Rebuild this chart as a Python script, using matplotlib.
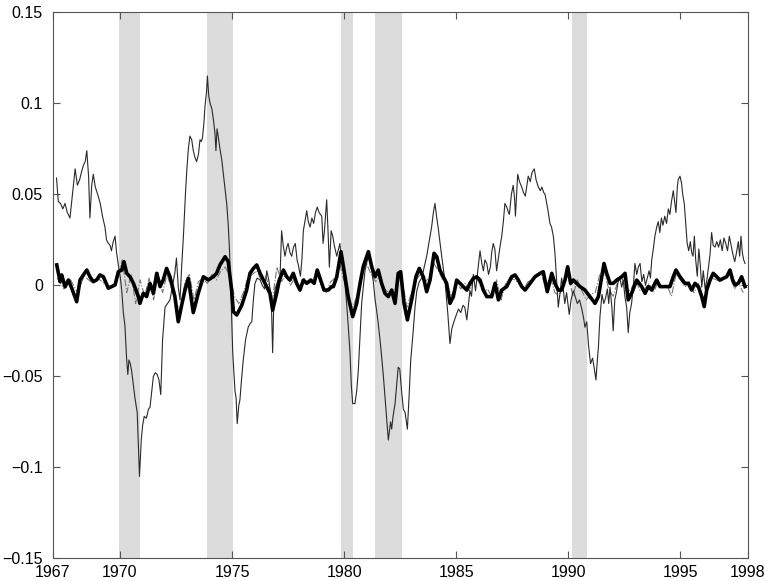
import matplotlib
matplotlib.use("Agg")
import matplotlib.pyplot as plt

# ---------------- data ----------------
recessions = [(1969.97, 1970.89), (1973.88, 1975.06), (1979.87, 1980.39),
              (1981.38, 1982.57), (1990.16, 1990.85)]

thin_years = [1967.17, 1967.25, 1967.35, 1967.45, 1967.55, 1967.65, 1967.77, 1967.88, 1968.00, 1968.10,
              1968.20, 1968.30, 1968.37, 1968.45, 1968.52, 1968.60, 1968.66, 1968.74, 1968.81, 1968.90,
              1969.03, 1969.12, 1969.22, 1969.33, 1969.40, 1969.48, 1969.56, 1969.62, 1969.70, 1969.78,
              1969.85, 1969.93, 1970.02, 1970.08, 1970.15, 1970.22, 1970.30, 1970.35, 1970.40, 1970.46,
              1970.52, 1970.60, 1970.67, 1970.77, 1970.87, 1970.95, 1971.01, 1971.08, 1971.18, 1971.27,
              1971.34, 1971.42, 1971.49, 1971.58, 1971.66, 1971.74, 1971.82, 1971.90, 1972.01, 1972.12,
              1972.23, 1972.35, 1972.45, 1972.52, 1972.60, 1972.68, 1972.75, 1972.83, 1972.92, 1972.98,
              1973.05, 1973.12, 1973.20, 1973.27, 1973.35, 1973.42, 1973.50, 1973.57, 1973.63, 1973.68,
              1973.75, 1973.79, 1973.86, 1973.90, 1973.96, 1974.02, 1974.10, 1974.18, 1974.24, 1974.28,
              1974.33, 1974.38, 1974.46, 1974.54, 1974.65, 1974.76, 1974.82, 1974.88, 1974.94, 1975.03,
              1975.08, 1975.13, 1975.18, 1975.23, 1975.30, 1975.35, 1975.42, 1975.50, 1975.60, 1975.72,
              1975.80, 1975.88, 1975.95, 1976.02, 1976.12, 1976.25, 1976.35, 1976.45, 1976.55, 1976.65,
              1976.75, 1976.81, 1976.86, 1976.92, 1977.03, 1977.14, 1977.21, 1977.28, 1977.36, 1977.44,
              1977.50, 1977.58, 1977.66, 1977.74, 1977.82, 1977.90, 1977.96, 1978.05, 1978.12, 1978.18,
              1978.26, 1978.33, 1978.40, 1978.48, 1978.56, 1978.64, 1978.72, 1978.80, 1978.88, 1979.00,
              1979.06, 1979.12, 1979.22, 1979.28, 1979.34, 1979.42, 1979.49, 1979.56, 1979.67, 1979.75,
              1979.81, 1979.88, 1979.96, 1980.04, 1980.11, 1980.18, 1980.26, 1980.32, 1980.38, 1980.48,
              1980.56, 1980.63, 1980.70, 1980.78, 1980.86, 1980.93, 1981.00, 1981.08, 1981.16, 1981.23,
              1981.30, 1981.38, 1981.45, 1981.52, 1981.60, 1981.67, 1981.75, 1981.82, 1981.90, 1981.97,
              1982.02, 1982.07, 1982.12, 1982.18, 1982.27, 1982.34, 1982.41, 1982.48, 1982.56, 1982.64,
              1982.72, 1982.82, 1982.90, 1982.97, 1983.08, 1983.16, 1983.24, 1983.35, 1983.46, 1983.57,
              1983.68, 1983.79, 1983.90, 1983.98, 1984.05, 1984.12, 1984.20, 1984.35, 1984.50, 1984.62,
              1984.72, 1984.80, 1984.87, 1984.95, 1985.10, 1985.20, 1985.30, 1985.38, 1985.47, 1985.55,
              1985.61, 1985.68, 1985.76, 1985.86, 1985.96, 1986.06, 1986.14, 1986.21, 1986.28, 1986.36,
              1986.44, 1986.52, 1986.58, 1986.65, 1986.72, 1986.80, 1986.88, 1986.96, 1987.03, 1987.10,
              1987.17, 1987.25, 1987.33, 1987.37, 1987.46, 1987.54, 1987.60, 1987.64, 1987.70, 1987.74,
              1987.82, 1987.92, 1988.00, 1988.08, 1988.15, 1988.21, 1988.30, 1988.38, 1988.48, 1988.56,
              1988.66, 1988.75, 1988.82, 1988.90, 1988.96, 1989.08, 1989.18, 1989.25, 1989.33, 1989.40,
              1989.45, 1989.55, 1989.62, 1989.70, 1989.78, 1989.84, 1989.92, 1990.04, 1990.12, 1990.22,
              1990.30, 1990.40, 1990.50, 1990.60, 1990.68, 1990.74, 1990.82, 1990.90, 1990.99, 1991.08,
              1991.16, 1991.23, 1991.30, 1991.34, 1991.41, 1991.50, 1991.58, 1991.66, 1991.74, 1991.80,
              1991.86, 1991.94, 1992.00, 1992.07, 1992.14, 1992.22, 1992.30, 1992.38, 1992.45, 1992.52,
              1992.60, 1992.67, 1992.74, 1992.82, 1992.90, 1992.97, 1993.05, 1993.12, 1993.20, 1993.28,
              1993.36, 1993.44, 1993.52, 1993.60, 1993.66, 1993.72, 1993.79, 1993.86, 1993.94, 1994.01,
              1994.08, 1994.15, 1994.22, 1994.30, 1994.38, 1994.46, 1994.53, 1994.60, 1994.68, 1994.75,
              1994.80, 1994.86, 1994.90, 1994.98, 1995.05, 1995.10, 1995.17, 1995.23, 1995.30, 1995.37,
              1995.44, 1995.50, 1995.56, 1995.62, 1995.68, 1995.75, 1995.82, 1995.88, 1995.95, 1996.02,
              1996.10, 1996.18, 1996.25, 1996.32, 1996.39, 1996.46, 1996.54, 1996.62, 1996.70, 1996.78,
              1996.86, 1996.94, 1997.02, 1997.10, 1997.18, 1997.26, 1997.34, 1997.42, 1997.50, 1997.58,
              1997.64, 1997.70, 1997.76, 1997.82, 1997.88]
thin_vals = [0.059, 0.046, 0.045, 0.042, 0.045, 0.040, 0.037, 0.050, 0.064, 0.055,
             0.058, 0.063, 0.066, 0.068, 0.074, 0.060, 0.037, 0.055, 0.061, 0.054,
             0.049, 0.045, 0.038, 0.032, 0.025, 0.023, 0.022, 0.019, 0.024, 0.027,
             0.018, 0.011, 0.004, -0.003, -0.015, -0.022, -0.041, -0.049, -0.041, -0.043,
             -0.047, -0.055, -0.062, -0.070, -0.105, -0.085, -0.077, -0.072, -0.073, -0.068,
             -0.067, -0.058, -0.050, -0.048, -0.049, -0.052, -0.060, -0.030, -0.012, -0.010,
             -0.008, 0.000, 0.007, 0.015, -0.001, -0.008, 0.010, 0.027, 0.050, 0.063,
             0.075, 0.082, 0.080, 0.074, 0.070, 0.068, 0.072, 0.080, 0.079, 0.081,
             0.090, 0.098, 0.106, 0.115, 0.104, 0.100, 0.097, 0.090, 0.083, 0.074,
             0.086, 0.082, 0.075, 0.069, 0.057, 0.045, 0.035, 0.021, -0.001, -0.037,
             -0.048, -0.058, -0.062, -0.076, -0.066, -0.063, -0.052, -0.041, -0.030, -0.023,
             -0.021, -0.020, -0.008, 0.001, 0.004, 0.003, 0.000, -0.002, 0.008, 0.002,
             -0.008, -0.037, -0.010, -0.002, 0.002, 0.005, 0.030, 0.022, 0.016, 0.021,
             0.023, 0.018, 0.016, 0.021, 0.023, 0.014, 0.011, 0.005, 0.015, 0.030,
             0.036, 0.041, 0.035, 0.032, 0.037, 0.034, 0.040, 0.043, 0.040, 0.038,
             0.023, 0.030, 0.047, 0.030, 0.010, 0.030, 0.027, 0.022, 0.016, 0.020,
             0.023, 0.014, 0.008, 0.000, -0.010, -0.022, -0.037, -0.055, -0.065, -0.065,
             -0.058, -0.047, -0.030, -0.010, 0.000, 0.008, 0.012, 0.016, 0.012, 0.008,
             0.002, -0.008, -0.014, -0.021, -0.030, -0.039, -0.050, -0.061, -0.073, -0.085,
             -0.080, -0.075, -0.079, -0.072, -0.065, -0.055, -0.045, -0.046, -0.058, -0.068,
             -0.070, -0.079, -0.060, -0.041, -0.025, -0.012, -0.003, 0.002, 0.004, 0.010,
             0.016, 0.024, 0.032, 0.040, 0.045, 0.038, 0.031, 0.016, 0.002, -0.015,
             -0.032, -0.024, -0.021, -0.018, -0.013, -0.015, -0.011, -0.012, -0.019, -0.010,
             -0.003, -0.006, 0.006, -0.003, 0.008, 0.019, 0.012, 0.008, 0.014, 0.012,
             0.006, 0.010, 0.018, 0.023, 0.020, 0.008, 0.015, 0.022, 0.027, 0.035,
             0.045, 0.043, 0.040, 0.039, 0.050, 0.055, 0.048, 0.038, 0.052, 0.061,
             0.057, 0.054, 0.051, 0.049, 0.055, 0.060, 0.057, 0.062, 0.064, 0.058,
             0.054, 0.052, 0.054, 0.051, 0.050, 0.042, 0.034, 0.032, 0.027, 0.018,
             0.008, -0.012, -0.005, 0.004, -0.003, -0.010, -0.004, -0.016, -0.008, -0.003,
             -0.006, -0.010, -0.008, -0.013, -0.018, -0.023, -0.020, -0.033, -0.043, -0.040,
             -0.046, -0.052, -0.040, -0.034, -0.017, -0.005, -0.010, -0.007, -0.002, -0.010,
             -0.001, -0.012, -0.025, -0.008, -0.004, 0.002, 0.004, -0.001, 0.003, -0.006,
             -0.012, -0.026, -0.015, -0.010, 0.000, 0.012, 0.006, 0.010, 0.012, 0.002,
             0.006, 0.000, 0.004, 0.008, 0.004, 0.014, 0.020, 0.027, 0.032, 0.035,
             0.029, 0.037, 0.033, 0.038, 0.034, 0.042, 0.039, 0.046, 0.052, 0.045,
             0.040, 0.054, 0.058, 0.060, 0.056, 0.050, 0.045, 0.035, 0.023, 0.019,
             0.024, 0.018, 0.016, 0.027, 0.014, 0.005, 0.020, 0.012, -0.001, 0.008,
             -0.002, 0.003, 0.010, 0.017, 0.029, 0.022, 0.021, 0.024, 0.021, 0.025,
             0.019, 0.026, 0.023, 0.019, 0.027, 0.022, 0.017, 0.013, 0.018, 0.024,
             0.016, 0.027, 0.018, 0.014, 0.012]

thick_years = [1967.18, 1967.33, 1967.40, 1967.55, 1967.70, 1967.85, 1968.07, 1968.22, 1968.37, 1968.52,
               1968.66, 1968.81, 1968.96, 1969.11, 1969.26, 1969.48, 1969.63, 1969.78, 1969.93, 1970.08,
               1970.18, 1970.30, 1970.45, 1970.60, 1970.82, 1970.89, 1971.04, 1971.19, 1971.34, 1971.49,
               1971.64, 1971.79, 1971.93, 1972.08, 1972.23, 1972.45, 1972.60, 1972.75, 1972.90, 1973.05,
               1973.27, 1973.49, 1973.72, 1973.94, 1974.16, 1974.31, 1974.46, 1974.69, 1974.83, 1974.98,
               1975.06, 1975.21, 1975.43, 1975.65, 1975.80, 1975.95, 1976.10, 1976.25, 1976.47, 1976.69,
               1976.81, 1976.99, 1977.11, 1977.29, 1977.44, 1977.58, 1977.73, 1977.88, 1978.03, 1978.18,
               1978.33, 1978.51, 1978.66, 1978.80, 1978.95, 1979.10, 1979.29, 1979.44, 1979.52, 1979.67,
               1979.86, 1980.04, 1980.18, 1980.38, 1980.56, 1980.71, 1980.85, 1981.08, 1981.23, 1981.38,
               1981.52, 1981.67, 1981.82, 1981.97, 1982.12, 1982.27, 1982.41, 1982.52, 1982.67, 1982.82,
               1983.01, 1983.20, 1983.35, 1983.53, 1983.68, 1983.83, 1984.01, 1984.13, 1984.27, 1984.42,
               1984.57, 1984.72, 1984.87, 1985.02, 1985.17, 1985.31, 1985.47, 1985.61, 1985.76, 1985.91,
               1986.06, 1986.21, 1986.36, 1986.58, 1986.73, 1986.88, 1987.03, 1987.25, 1987.47, 1987.62,
               1987.77, 1987.92, 1988.07, 1988.29, 1988.51, 1988.74, 1988.88, 1989.06, 1989.26, 1989.40,
               1989.55, 1989.70, 1989.85, 1989.97, 1990.10, 1990.22, 1990.37, 1990.52, 1990.74, 1990.96,
               1991.19, 1991.34, 1991.49, 1991.59, 1991.71, 1991.86, 1992.00, 1992.16, 1992.38, 1992.53,
               1992.67, 1992.82, 1993.05, 1993.27, 1993.42, 1993.57, 1993.72, 1993.86, 1993.94, 1994.09,
               1994.31, 1994.53, 1994.68, 1994.80, 1994.98, 1995.20, 1995.35, 1995.50, 1995.65, 1995.80,
               1995.95, 1996.06, 1996.17, 1996.32, 1996.46, 1996.62, 1996.76, 1996.91, 1997.06, 1997.21,
               1997.33, 1997.43, 1997.58, 1997.73, 1997.88]
thick_vals = [0.0112, 0.0020, 0.0057, -0.0008, 0.0029, -0.0016, -0.0090, 0.0030, 0.0057, 0.0084,
              0.0047, 0.0020, 0.0030, 0.0057, 0.0047, -0.0016, -0.0007, 0.0002, 0.0075, 0.0084,
              0.0130, 0.0066, 0.0047, 0.0011, -0.0062, -0.0099, -0.0044, -0.0062, 0.0011, -0.0044,
              0.0066, -0.0007, 0.0030, 0.0093, 0.0047, -0.0062, -0.0200, -0.0110, -0.0026, 0.0038,
              -0.0150, -0.0044, 0.0047, 0.0030, 0.0047, 0.0066, 0.0112, 0.0157, 0.0130, -0.0026,
              -0.0145, -0.0163, -0.0110, -0.0026, 0.0066, 0.0093, 0.0112, 0.0066, 0.0011, -0.0044,
              -0.0136, -0.0044, 0.0030, 0.0084, 0.0047, 0.0029, 0.0066, 0.0011, -0.0026, 0.0029,
              0.0011, 0.0029, 0.0011, 0.0084, 0.0029, -0.0026, -0.0026, -0.0007, -0.0007, 0.0047,
              0.0185, 0.0047, -0.0062, -0.0172, -0.0099, 0.0011, 0.0102, 0.0185, 0.0102, 0.0047,
              0.0084, 0.0011, -0.0044, -0.0062, -0.0026, -0.0099, 0.0066, 0.0075, -0.0099, -0.0190,
              -0.0080, 0.0047, 0.0093, 0.0047, -0.0035, 0.0029, 0.0176, 0.0157, 0.0084, 0.0047,
              0.0011, -0.0099, -0.0062, 0.0029, 0.0011, -0.0007, -0.0026, 0.0011, 0.0038, 0.0047,
              0.0029, -0.0026, -0.0062, -0.0062, 0.0011, -0.0080, -0.0026, -0.0007, 0.0047, 0.0057,
              0.0029, -0.0007, -0.0026, 0.0011, 0.0047, 0.0066, 0.0075, -0.0035, 0.0066, 0.0011,
              -0.0026, -0.0026, 0.0029, 0.0102, 0.0011, 0.0029, 0.0011, -0.0007, -0.0026, -0.0062,
              -0.0099, -0.0062, 0.0047, 0.0120, 0.0066, 0.0011, 0.0011, 0.0029, 0.0047, 0.0066,
              -0.0080, -0.0044, 0.0029, -0.0007, -0.0044, -0.0007, -0.0026, 0.0011, 0.0029, -0.0007,
              -0.0007, -0.0007, 0.0047, 0.0084, 0.0047, 0.0011, 0.0011, -0.0026, 0.0011, -0.0007,
              -0.0062, -0.0117, -0.0026, 0.0029, 0.0066, 0.0047, 0.0029, 0.0038, 0.0047, 0.0084,
              0.0029, 0.0002, 0.0011, 0.0047, -0.0007]

dash_years = [1967.2, 1967.5, 1967.8, 1968.1, 1968.4, 1968.7, 1969.0, 1969.3, 1969.6, 1969.9,
              1970.1, 1970.3, 1970.5, 1970.7, 1970.9, 1971.1, 1971.3, 1971.5, 1971.7, 1971.9,
              1972.1, 1972.3, 1972.5, 1972.7, 1972.9, 1973.1, 1973.3, 1973.5, 1973.7, 1973.9,
              1974.1, 1974.3, 1974.5, 1974.7, 1974.9, 1975.1, 1975.3, 1975.5, 1975.7, 1975.9,
              1976.1, 1976.3, 1976.5, 1976.7, 1976.8, 1977.0, 1977.2, 1977.4, 1977.6, 1977.8,
              1978.0, 1978.2, 1978.4, 1978.6, 1978.8, 1979.0, 1979.2, 1979.4, 1979.6, 1979.8,
              1980.0, 1980.2, 1980.4, 1980.6, 1980.8, 1981.0, 1981.2, 1981.4, 1981.6, 1981.8,
              1982.0, 1982.2, 1982.4, 1982.6, 1982.8, 1983.0, 1983.2, 1983.4, 1983.6, 1983.8,
              1984.0, 1984.2, 1984.4, 1984.6, 1984.8, 1985.0, 1985.2, 1985.4, 1985.6, 1985.8,
              1986.0, 1986.2, 1986.4, 1986.6, 1986.8, 1987.0, 1987.2, 1987.4, 1987.6, 1987.8,
              1988.0, 1988.2, 1988.4, 1988.6, 1988.8, 1989.0, 1989.2, 1989.4, 1989.6, 1989.8,
              1990.0, 1990.2, 1990.4, 1990.6, 1990.8, 1991.0, 1991.2, 1991.4, 1991.6, 1991.8,
              1992.0, 1992.2, 1992.4, 1992.6, 1992.8, 1993.0, 1993.2, 1993.4, 1993.6, 1993.8,
              1994.0, 1994.2, 1994.4, 1994.6, 1994.8, 1995.0, 1995.2, 1995.4, 1995.6, 1995.8,
              1996.0, 1996.2, 1996.4, 1996.6, 1996.8, 1997.0, 1997.2, 1997.4, 1997.6, 1997.8]
dash_vals = [0.004, -0.002, 0.003, -0.004, 0.005, 0.002, 0.004, 0.001, -0.002, 0.003,
             0.014, -0.004, 0.006, -0.010, 0.003, -0.006, 0.004, -0.008, 0.007, -0.004,
             0.006, -0.002, -0.010, -0.014, 0.002, 0.006, -0.008, 0.002, 0.004, 0.001,
             0.006, 0.003, 0.008, 0.010, 0.005, -0.006, -0.010, -0.004, 0.004, 0.006,
             0.008, 0.003, 0.005, -0.002, -0.008, 0.010, 0.002, 0.006, 0.000, 0.004,
             -0.002, 0.004, 0.001, 0.003, 0.006, 0.000, -0.004, 0.002, 0.004, 0.012,
             0.002, -0.008, -0.012, -0.004, 0.006, 0.012, 0.006, 0.002, 0.005, -0.002,
             -0.004, -0.006, 0.004, 0.002, -0.012, -0.004, 0.003, 0.006, 0.002, 0.004,
             0.012, 0.008, 0.003, 0.000, -0.006, 0.002, -0.002, 0.001, -0.003, 0.005,
             0.002, -0.004, -0.002, -0.007, 0.003, -0.008, 0.001, 0.004, 0.003, 0.001,
             -0.002, 0.002, 0.003, 0.005, 0.006, -0.002, 0.004, -0.004, -0.006, 0.002,
             0.006, -0.006, 0.003, -0.003, -0.008, -0.005, -0.004, 0.006, 0.008, -0.002,
             -0.006, 0.002, 0.004, -0.004, -0.002, 0.003, -0.003, -0.002, 0.001, -0.004,
             0.002, -0.001, 0.000, -0.006, 0.006, 0.003, -0.001, 0.002, -0.004, 0.001,
             -0.008, -0.003, 0.004, 0.003, 0.002, 0.004, 0.006, -0.002, 0.001, -0.004]

x_ticks = [1967, 1970, 1975, 1980, 1985, 1990, 1995, 1998]
y_ticks = [-0.15, -0.1, -0.05, 0, 0.05, 0.1, 0.15]
y_labels = ["\u22120.15", "\u22120.1", "\u22120.05", "0", "0.05", "0.1", "0.15"]

# ---------------- plot ----------------
plt.rcParams['font.family'] = ['Liberation Sans', 'DejaVu Sans']
fig = plt.figure(figsize=(7.65, 5.81), dpi=100)
ax = fig.add_axes([0.0689, 0.039, 0.9085, 0.9398])

for a, b in recessions:
    ax.axvspan(a, b, color='#dcdcdc', lw=0, zorder=0)

ax.plot(dash_years, dash_vals, color='#777777', lw=0.8, ls='-.', zorder=2)
ax.plot(thin_years, thin_vals, color='#2a2a2a', lw=0.8, zorder=3)
ax.plot(thick_years, thick_vals, color='black', lw=2.6, zorder=4)

ax.set_xlim(1967, 1998)
ax.set_ylim(-0.15, 0.15)
ax.set_xticks(x_ticks)
ax.set_xticklabels([str(t) for t in x_ticks])
ax.set_yticks(y_ticks)
ax.set_yticklabels(y_labels)
ax.tick_params(direction='in', length=5, width=0.8, color='#555555',
               top=True, right=True, labelsize=11.5, labelcolor='black')
ax.tick_params(axis='x', pad=5)
ax.tick_params(axis='y', pad=7)
for s in ax.spines.values():
    s.set_color('#555555')
    s.set_linewidth(0.8)

fig.savefig('out.png', dpi=100)
